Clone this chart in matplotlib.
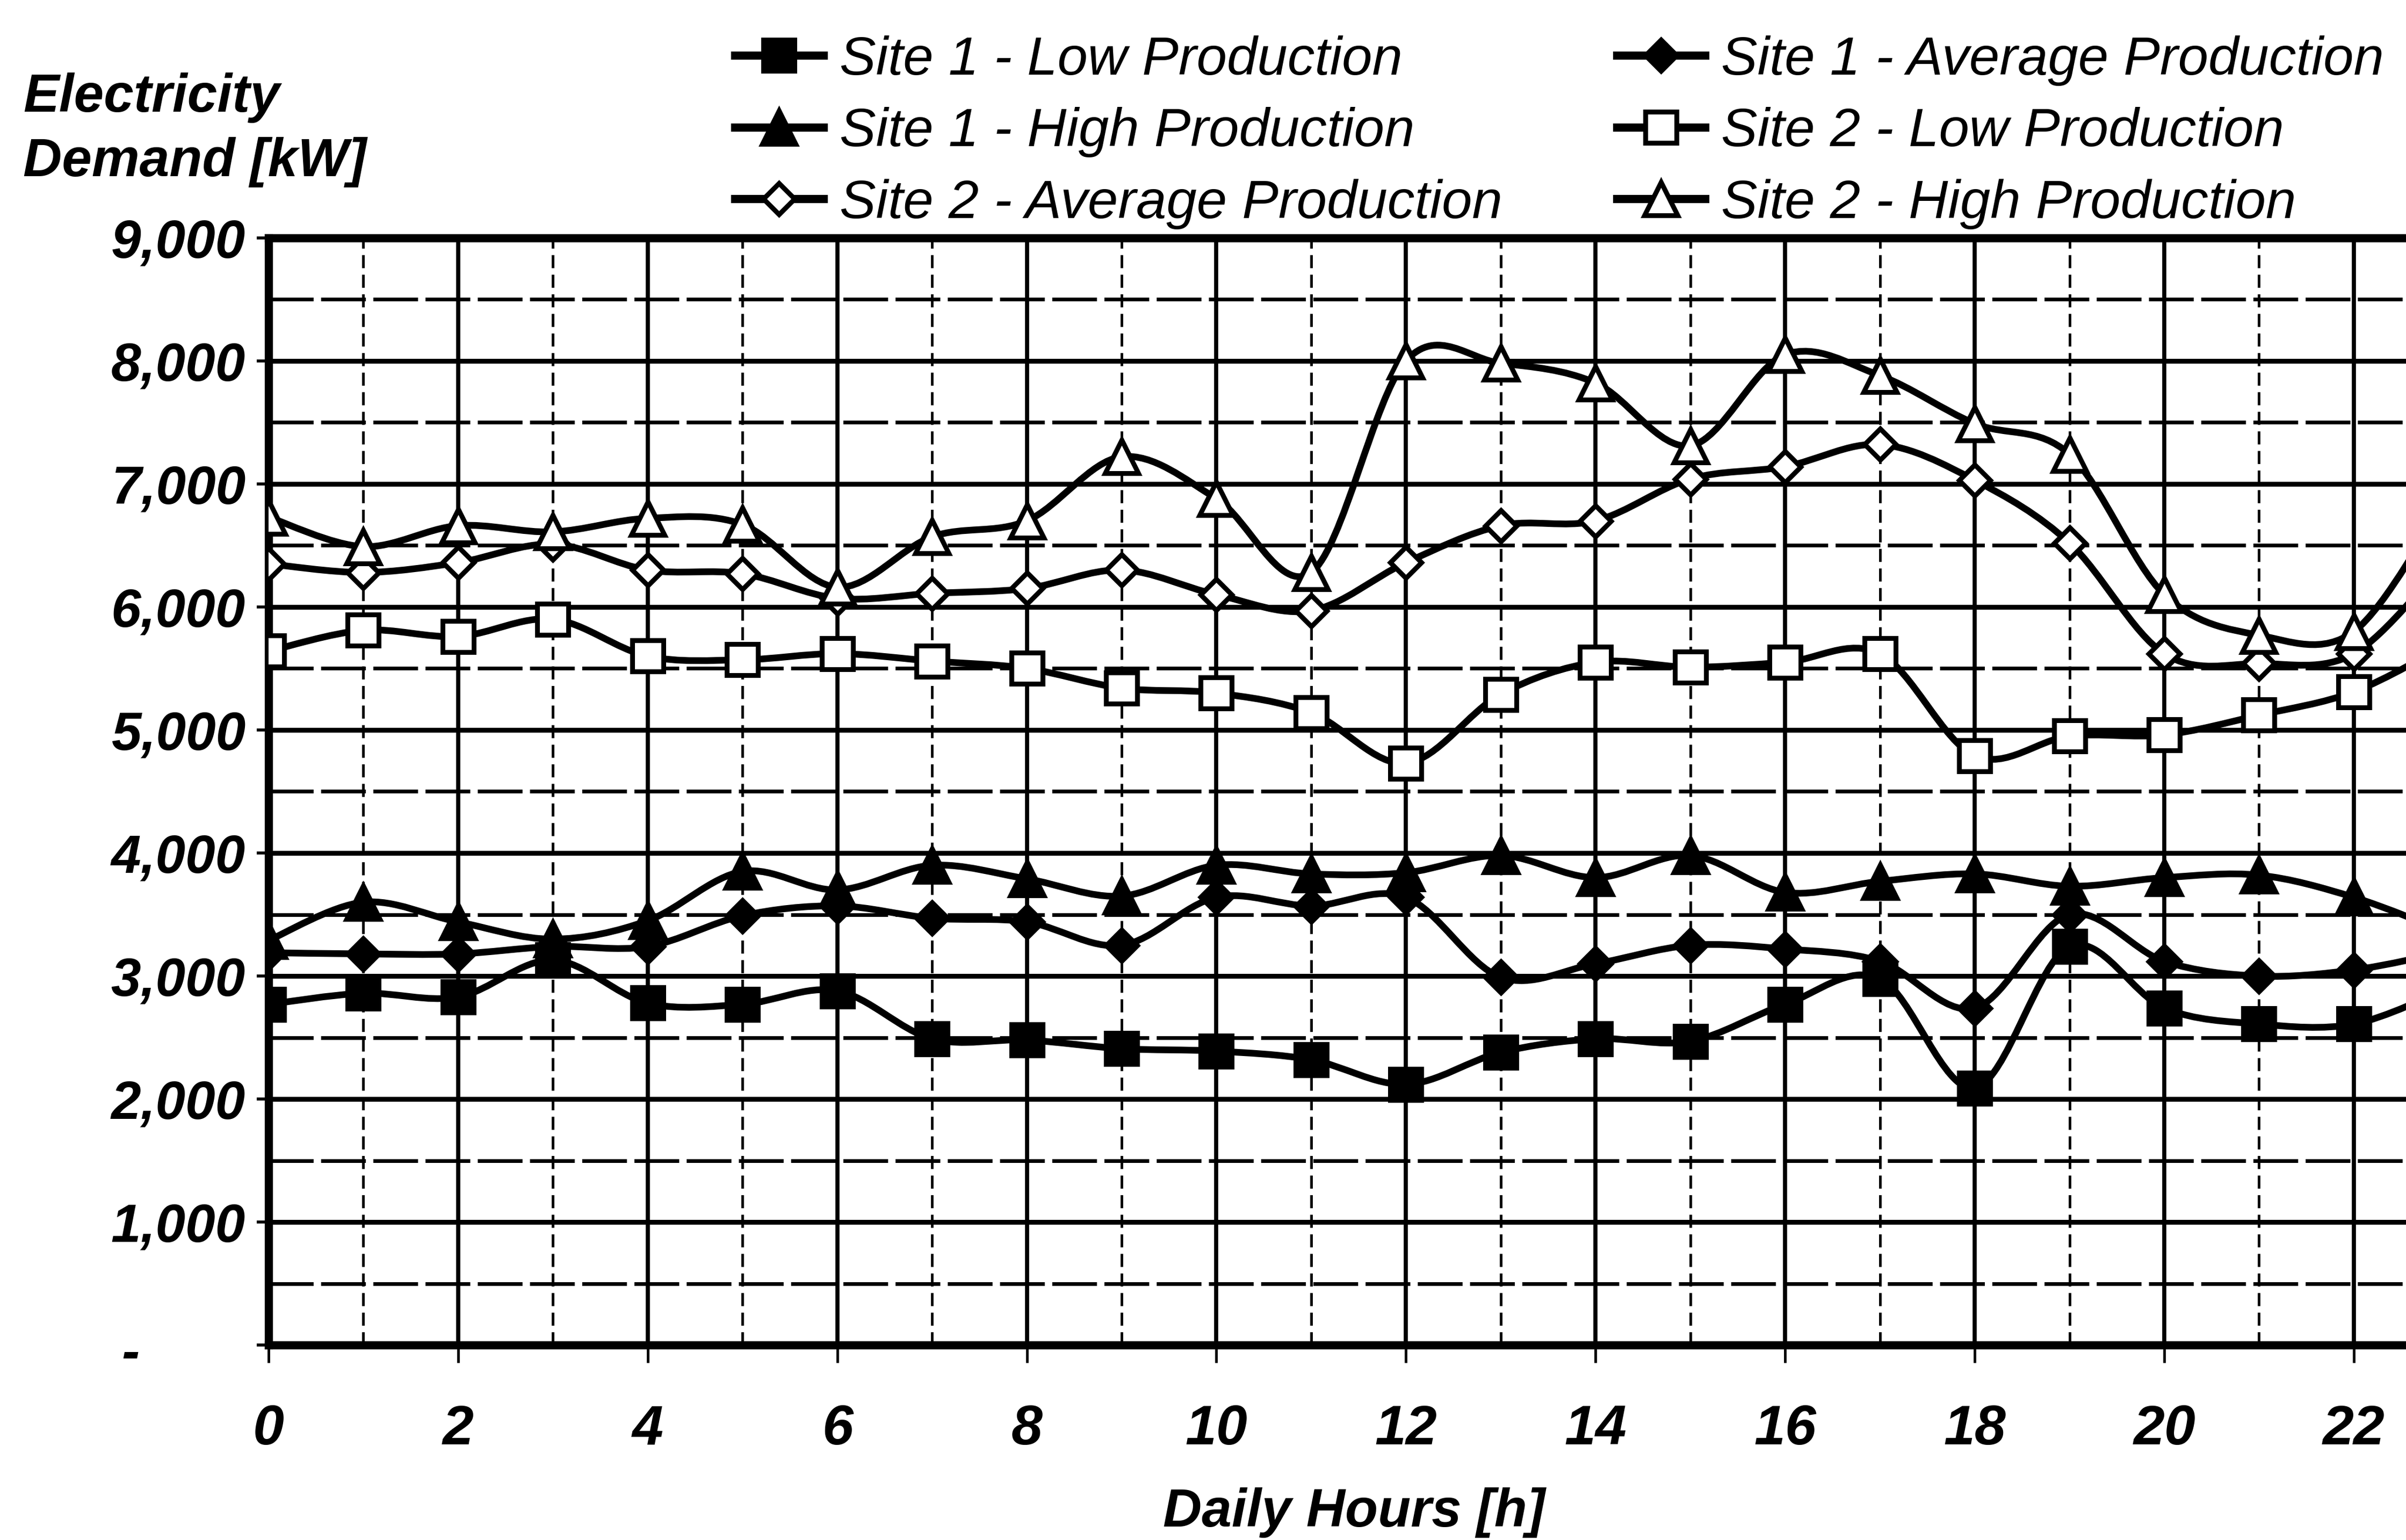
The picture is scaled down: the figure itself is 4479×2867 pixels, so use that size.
import numpy as np
import matplotlib
matplotlib.use("Agg")
import matplotlib.pyplot as plt
from matplotlib.path import Path
from matplotlib.patches import PathPatch
from matplotlib.lines import Line2D
from matplotlib.font_manager import FontProperties
from matplotlib.ticker import MultipleLocator, FixedLocator, FuncFormatter

# ---- data: hourly electricity demand [kW] ----
hours = list(range(24))
site1_low = [2770, 2860, 2830, 3130, 2780, 2770, 2880, 2490, 2480, 2410, 2390, 2320,
             2120, 2380, 2490, 2470, 2770, 2980, 2090, 3240, 2740, 2610, 2610, 2900]
site1_avg = [3190, 3180, 3180, 3240, 3240, 3490, 3570, 3470, 3440, 3250, 3640, 3570,
             3640, 2990, 3100, 3250, 3220, 3120, 2740, 3500, 3120, 3000, 3050, 3200]
site1_high = [3290, 3600, 3440, 3300, 3450, 3850, 3700, 3900, 3790, 3650, 3900, 3830,
              3840, 3980, 3800, 3980, 3680, 3770, 3830, 3730, 3800, 3820, 3640, 3350]
site2_low = [5640, 5810, 5760, 5900, 5600, 5570, 5620, 5560, 5500, 5340, 5300, 5140,
             4730, 5290, 5550, 5510, 5550, 5620, 4790, 4950, 4960, 5120, 5310, 5700]
site2_avg = [6350, 6280, 6360, 6510, 6300, 6270, 6070, 6110, 6150, 6300, 6100, 5970,
             6360, 6660, 6700, 7040, 7140, 7320, 7030, 6520, 5620, 5540, 5620, 6400]
site2_high = [6730, 6490, 6660, 6610, 6720, 6670, 6160, 6570, 6700, 7220, 6880, 6280,
              8000, 7980, 7820, 7310, 8050, 7880, 7490, 7240, 6100, 5770, 5800, 6900]

series_labels = ["Site 1 - Low Production", "Site 1 - Average Production",
                 "Site 1 - High Production", "Site 2 - Low Production",
                 "Site 2 - Average Production", "Site 2 - High Production"]
x_tick_labels = [str(h) for h in range(0, 23, 2)]

FONT = "Liberation Sans"
FS = 72

fig = plt.figure(figsize=(44.79, 28.67), dpi=100)
ax = fig.add_axes([175 / 1568, 1 - 877 / 1004, 1 - 175 / 1568, (877 - 155) / 1004])
ax.set_xlim(0, 22.55)
ax.set_ylim(0, 9000)


def smooth_path(x, y):
    """Smoothed polyline as cubic Bezier segments (Catmull-Rom style tangents)."""
    pts = np.column_stack([x, y]).astype(float)
    n = len(pts)
    verts = [pts[0]]
    codes = [Path.MOVETO]
    for i in range(n - 1):
        p0 = pts[i - 1] if i > 0 else pts[i]
        p1, p2 = pts[i], pts[i + 1]
        p3 = pts[i + 2] if i + 2 < n else pts[i + 1]
        verts += [p1 + (p2 - p0) / 6.0, p2 - (p3 - p1) / 6.0, p2]
        codes += [Path.CURVE4] * 3
    return Path(verts, codes)


LW = 9
MEW = 6.5
styles = [
    dict(marker="s", ms=42, mfc="black"),
    dict(marker="D", ms=30, mfc="black"),
    dict(marker="^", ms=44, mfc="black"),
    dict(marker="s", ms=42, mfc="white"),
    dict(marker="D", ms=30, mfc="white"),
    dict(marker="^", ms=44, mfc="white"),
]
all_series = [site1_low, site1_avg, site1_high, site2_low, site2_avg, site2_high]

handles = []
for vals, st, lab in zip(all_series, styles, series_labels):
    patch = PathPatch(smooth_path(hours, vals), fill=False, edgecolor="black",
                      lw=LW, capstyle="round", joinstyle="round", zorder=3)
    ax.add_patch(patch)
    ax.plot(hours, vals, ls="none", marker=st["marker"], ms=st["ms"],
            mfc=st["mfc"], mec="black", mew=MEW, zorder=4)
    handles.append(Line2D([], [], color="black", lw=11, marker=st["marker"],
                          ms=st["ms"], mfc=st["mfc"], mec="black", mew=MEW))

# ---- grid ----
ax.set_axisbelow(True)
ax.xaxis.set_major_locator(FixedLocator(list(range(0, 23, 2))))
ax.xaxis.set_minor_locator(FixedLocator(list(range(1, 23, 2))))
ax.yaxis.set_major_locator(MultipleLocator(1000))
ax.yaxis.set_minor_locator(MultipleLocator(500))
ax.xaxis.grid(True, which="major", color="black", lw=5.5)
ax.xaxis.grid(True, which="minor", color="black", lw=3.5, ls=(0, (5, 2.5)))
ax.yaxis.grid(True, which="major", color="black", lw=6.5)
ax.yaxis.grid(True, which="minor", color="black", lw=5, ls=(0, (12, 2)))

for side in ("left", "top", "bottom"):
    ax.spines[side].set_linewidth(11)
ax.spines["right"].set_visible(False)

# ---- ticks ----
tick_font = dict(family=FONT, weight="bold", style="italic", size=FS)
ax.tick_params(axis="x", which="major", direction="out", length=24, width=3.5, pad=55)
ax.tick_params(axis="y", which="major", direction="out", length=16, width=4, pad=15)
ax.tick_params(which="minor", length=0)
ax.set_xticklabels(x_tick_labels, fontdict=dict(tick_font, size=75))
ax.yaxis.set_major_formatter(FuncFormatter(lambda v, p: "" if v == 0 else f"{int(v):,}"))
for lab in ax.get_yticklabels():
    lab.set_fontproperties(FontProperties(**tick_font))
ax.text(-0.0646, -80, "-", transform=ax.get_yaxis_transform(), ha="center",
        va="center", fontdict=tick_font, clip_on=False)

# ---- axis titles ----
fig.text(15 / 1568, 1 - 73 / 1004, "Electricity", ha="left", va="baseline",
         family=FONT, weight="bold", style="italic", size=FS)
fig.text(15 / 1568, 1 - 115 / 1004, "Demand [kW]", ha="left", va="baseline",
         family=FONT, weight="bold", style="italic", size=FS)
fig.text(2521 / 4479, 1 - 2842 / 2867, "Daily Hours [h]", ha="center", va="baseline",
         family=FONT, weight="bold", style="italic", size=FS)

# ---- legend (row-wise order across two columns) ----
order = [0, 2, 4, 1, 3, 5]
fig.legend([handles[i] for i in order], [series_labels[i] for i in order],
           ncol=2, loc="upper left", bbox_to_anchor=(479 / 1568, 1 - 23 / 1004),
           frameon=False, prop=dict(family=FONT, style="italic", size=73),
           handlelength=1.62, handletextpad=0.3, columnspacing=2.1,
           labelspacing=0.39, borderpad=0, borderaxespad=0)

fig.savefig("out.png", dpi=100)
